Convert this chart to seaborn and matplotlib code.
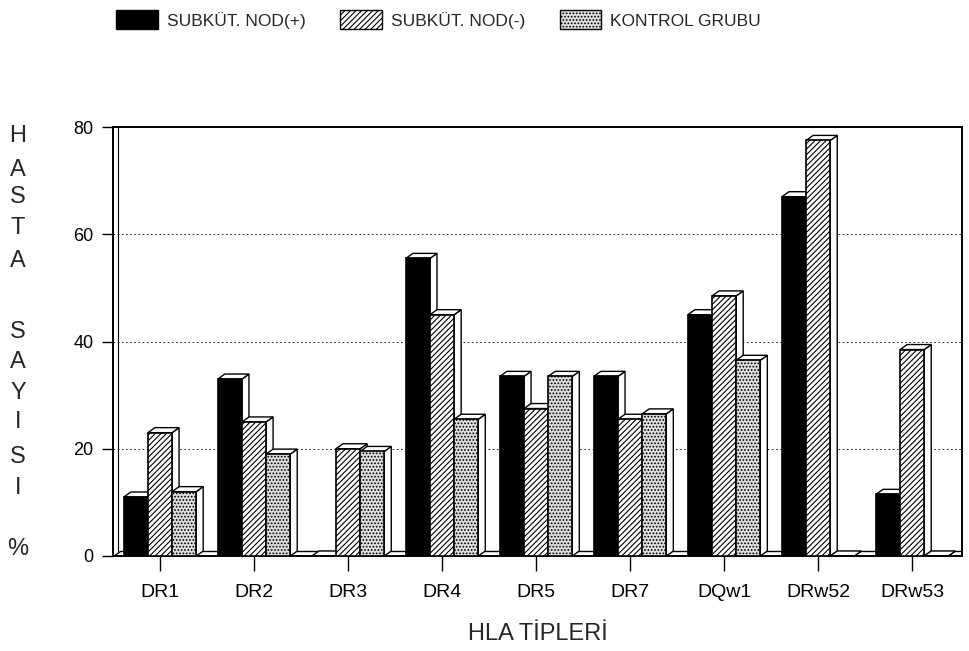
import numpy as np
import pandas as pd
import matplotlib
matplotlib.use("Agg")
import matplotlib.pyplot as plt
import seaborn as sns
from matplotlib.patches import Polygon, Patch

# =====================================================
# Veriler (grafikten okunan yüzdeler)
# =====================================================

hla_tipleri = ['DR1', 'DR2', 'DR3', 'DR4', 'DR5', 'DR7', 'DQw1', 'DRw52', 'DRw53']

subkut_nod_pos = [11, 33, 0, 55.5, 33.5, 33.5, 45, 67, 11.5]
subkut_nod_neg = [23, 25, 20, 45, 27.5, 25.5, 48.5, 77.5, 38.5]
kontrol_grubu = [12, 19, 19.5, 25.5, 33.5, 26.5, 36.5, 0, 0]

gruplar = ['SUBKÜT. NOD(+)', 'SUBKÜT. NOD(-)', 'KONTROL GRUBU']
renkler = ['black', 'white', '#dcdcdc']
taramalar = ['', '//////', '.....']

y_ticks = [0, 20, 40, 60, 80]

# dikey yazılmış y etiketi (harf, y konumu veri biriminde)
y_harfler = ['H', 'A', 'S', 'T', 'A', 'S', 'A', 'Y', 'I', 'S', 'I', '%']
y_harf_konum = [78.3, 71.9, 66.9, 61.1, 55.0, 41.7, 36.1, 30.4, 25.0, 18.5, 12.7, 1.3]

df = pd.DataFrame({
    'hla': hla_tipleri * 3,
    'grup': np.repeat(gruplar, len(hla_tipleri)),
    'yuzde': subkut_nod_pos + subkut_nod_neg + kontrol_grubu,
})

# =====================================================
# Grafik
# =====================================================

sns.set_style('white')
plt.rcParams['font.family'] = ['Liberation Sans', 'DejaVu Sans']
plt.rcParams['hatch.linewidth'] = 0.8

fig = plt.figure(figsize=(9.69, 6.51), dpi=100)
ax = fig.add_axes([113 / 969, 95 / 651, 849 / 969, 429 / 651])

sns.barplot(
    data=df, x='hla', y='yuzde', hue='grup',
    order=hla_tipleri, hue_order=gruplar,
    palette=renkler, saturation=1,
    width=0.77, gap=0, errorbar=None,
    edgecolor='black', linewidth=1.2,
    legend=False, ax=ax, zorder=3,
)

for cont, h in zip(ax.containers, taramalar):
    for bar in cont:
        bar.set_hatch(h)

x_min, x_max = -0.5, 8.53
ax.set_xlim(x_min, x_max)
ax.set_ylim(0, 80)

# 3 boyut etkisi: ust ve yan yuzler
dx = 7 * (x_max - x_min) / 849
dy = 5 * 80 / 429

zemin = Polygon([(x_min, 0), (x_max, 0), (x_max, dy), (x_min + dx, dy)],
                closed=True, fc='white', ec='black', lw=1.0, zorder=1.5)
ax.add_patch(zemin)

bars = sorted([b for c in ax.containers for b in c], key=lambda b: b.get_x())
for b in bars:
    x0, w, h = b.get_x(), b.get_width(), b.get_height()
    yan = Polygon([(x0 + w, 0), (x0 + w + dx, dy), (x0 + w + dx, h + dy), (x0 + w, h)],
                  closed=True, fc='white', ec='black', lw=1.0, zorder=2)
    ust = Polygon([(x0, h), (x0 + w, h), (x0 + w + dx, h + dy), (x0 + dx, h + dy)],
                  closed=True, fc='white', ec='black', lw=1.0, zorder=2)
    ax.add_patch(yan)
    ax.add_patch(ust)

# sol duvarin ic cizgisi
ax.axvline(x_min + dx * 0.7, ymin=dy / 80, color='black', lw=0.8, zorder=1.6)

ax.set_yticks(y_ticks)
ax.yaxis.grid(True, ls=(0, (2, 3)), color='black', lw=0.6)
ax.set_axisbelow(True)

for s in ax.spines.values():
    s.set_color('black')
    s.set_linewidth(1.4)

ax.tick_params(axis='y', direction='out', left=True, length=8, width=1,
               pad=6, labelsize=13, colors='black')
ax.tick_params(axis='x', direction='out', bottom=True, length=11, width=1,
               pad=9, labelsize=14, colors='black')

ax.set_xlabel('HLA TİPLERİ', fontsize=17, labelpad=16)
ax.set_ylabel('')

for harf, yk in zip(y_harfler, y_harf_konum):
    ax.text(-0.112, yk, harf, transform=ax.get_yaxis_transform(),
            ha='center', va='center', fontsize=17)

legend_handles = [Patch(fc=r, ec='black', hatch=t) for r, t in zip(renkler, taramalar)]
fig.legend(legend_handles, gruplar, ncol=3, loc='upper left',
           bbox_to_anchor=(106 / 969, 1.0), frameon=False, fontsize=12.5,
           handlelength=2.4, handleheight=1.3, columnspacing=2.0,
           handletextpad=0.5, borderaxespad=0.2)

plt.savefig('out.png', dpi=100)
